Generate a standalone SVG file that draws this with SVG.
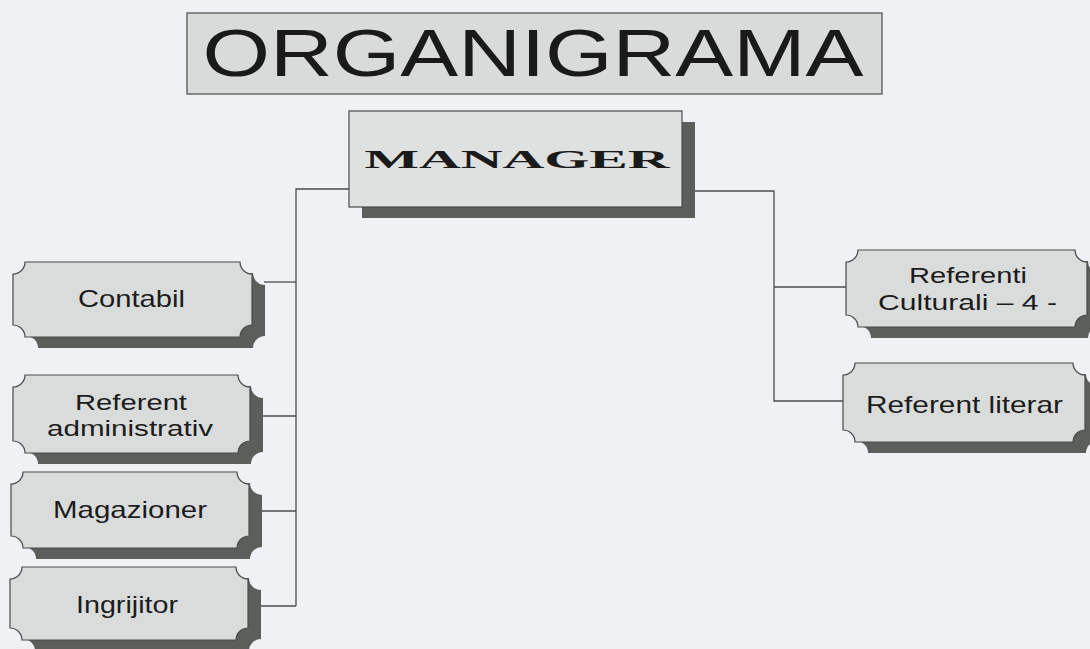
<svg xmlns="http://www.w3.org/2000/svg" width="1090" height="649" viewBox="0 0 1090 649">
<style>
.bg{fill:#eef2f5}
.box{fill:#dadcdc;stroke:#4a4a4a;stroke-width:1.2}
.shadow{fill:#5b5f5c}
.conn{fill:none;stroke:#4a4d4f;stroke-width:1.3}
.lbl{font-family:"Liberation Sans",Arial,sans-serif;font-size:24px;fill:#1c1c1c;text-anchor:middle}
.sm{font-size:22px}
.title{font-family:"Liberation Sans",Arial,sans-serif;font-size:66px;fill:#1a1a1a;text-anchor:middle}
.mgr{font-family:"Liberation Serif","Times New Roman",serif;font-weight:bold;font-size:25px;fill:#1a1a1a;text-anchor:middle}
</style>
<rect class="bg" x="0" y="0" width="1090" height="649"/>

<g id="title">
<rect x="187" y="13" width="695" height="81" fill="#d9dbdb" stroke="#555" stroke-width="1.3"/>
<text class="title" x="533" y="76" textLength="661" lengthAdjust="spacingAndGlyphs">ORGANIGRAMA</text>
</g>

<g id="connectors">
<polyline class="conn" points="349,189 296,189 296,606"/>
<line class="conn" x1="264" y1="282" x2="296" y2="282"/>
<line class="conn" x1="262" y1="416" x2="296" y2="416"/>
<line class="conn" x1="261" y1="511" x2="296" y2="511"/>
<line class="conn" x1="260" y1="606" x2="296" y2="606"/>
<polyline class="conn" points="695,191 774,191 774,401 843,401"/>
<line class="conn" x1="774" y1="287" x2="846" y2="287"/>
</g>

<g id="manager">
<rect class="shadow" x="362" y="122" width="333" height="96"/>
<rect x="349" y="111" width="333" height="96" fill="#dfe1e1" stroke="#4a4a4a" stroke-width="1.2"/>
<text class="mgr" x="517" y="168" textLength="305" lengthAdjust="spacingAndGlyphs">MANAGER</text>
</g>

<g id="contabil">
<path class="shadow" transform="translate(13,11)" d="M25,262 H240 A12,12 0 0 0 252,274 V325 A12,12 0 0 0 240,337 H25 A12,12 0 0 0 13,325 V274 A12,12 0 0 0 25,262 Z"/>
<path class="box" d="M25,262 H240 A12,12 0 0 0 252,274 V325 A12,12 0 0 0 240,337 H25 A12,12 0 0 0 13,325 V274 A12,12 0 0 0 25,262 Z"/>
<text class="lbl" x="131.5" y="307" textLength="107" lengthAdjust="spacingAndGlyphs">Contabil</text>
</g>

<g id="referent-administrativ">
<path class="shadow" transform="translate(13,11)" d="M25,375 H238 A12,12 0 0 0 250,387 V441 A12,12 0 0 0 238,453 H25 A12,12 0 0 0 13,441 V387 A12,12 0 0 0 25,375 Z"/>
<path class="box" d="M25,375 H238 A12,12 0 0 0 250,387 V441 A12,12 0 0 0 238,453 H25 A12,12 0 0 0 13,441 V387 A12,12 0 0 0 25,375 Z"/>
<text class="lbl sm" x="131" y="410" textLength="112" lengthAdjust="spacingAndGlyphs">Referent</text>
<text class="lbl sm" x="130" y="436" textLength="166" lengthAdjust="spacingAndGlyphs">administrativ</text>
</g>

<g id="magazioner">
<path class="shadow" transform="translate(13,11)" d="M23,472 H237 A12,12 0 0 0 249,484 V536 A12,12 0 0 0 237,548 H23 A12,12 0 0 0 11,536 V484 A12,12 0 0 0 23,472 Z"/>
<path class="box" d="M23,472 H237 A12,12 0 0 0 249,484 V536 A12,12 0 0 0 237,548 H23 A12,12 0 0 0 11,536 V484 A12,12 0 0 0 23,472 Z"/>
<text class="lbl" x="130" y="518" textLength="154" lengthAdjust="spacingAndGlyphs">Magazioner</text>
</g>

<g id="ingrijitor">
<path class="shadow" transform="translate(13,11)" d="M22,567 H236 A12,12 0 0 0 248,579 V628 A12,12 0 0 0 236,640 H22 A12,12 0 0 0 10,628 V579 A12,12 0 0 0 22,567 Z"/>
<path class="box" d="M22,567 H236 A12,12 0 0 0 248,579 V628 A12,12 0 0 0 236,640 H22 A12,12 0 0 0 10,628 V579 A12,12 0 0 0 22,567 Z"/>
<text class="lbl" x="127" y="613" textLength="102" lengthAdjust="spacingAndGlyphs">Ingrijitor</text>
</g>

<g id="referenti-culturali">
<path class="shadow" transform="translate(13,11)" d="M858,250 H1075 A12,12 0 0 0 1087,262 V315 A12,12 0 0 0 1075,327 H858 A12,12 0 0 0 846,315 V262 A12,12 0 0 0 858,250 Z"/>
<path class="box" d="M858,250 H1075 A12,12 0 0 0 1087,262 V315 A12,12 0 0 0 1075,327 H858 A12,12 0 0 0 846,315 V262 A12,12 0 0 0 858,250 Z"/>
<text class="lbl sm" x="968" y="283" textLength="118" lengthAdjust="spacingAndGlyphs">Referenti</text>
<text class="lbl sm" x="967.5" y="310" textLength="179" lengthAdjust="spacingAndGlyphs">Culturali – 4 -</text>
</g>

<g id="referent-literar">
<path class="shadow" transform="translate(13,11)" d="M855,363 H1073 A12,12 0 0 0 1085,375 V430 A12,12 0 0 0 1073,442 H855 A12,12 0 0 0 843,430 V375 A12,12 0 0 0 855,363 Z"/>
<path class="box" d="M855,363 H1073 A12,12 0 0 0 1085,375 V430 A12,12 0 0 0 1073,442 H855 A12,12 0 0 0 843,430 V375 A12,12 0 0 0 855,363 Z"/>
<text class="lbl" x="964.5" y="413" textLength="197" lengthAdjust="spacingAndGlyphs">Referent literar</text>
</g>
</svg>
